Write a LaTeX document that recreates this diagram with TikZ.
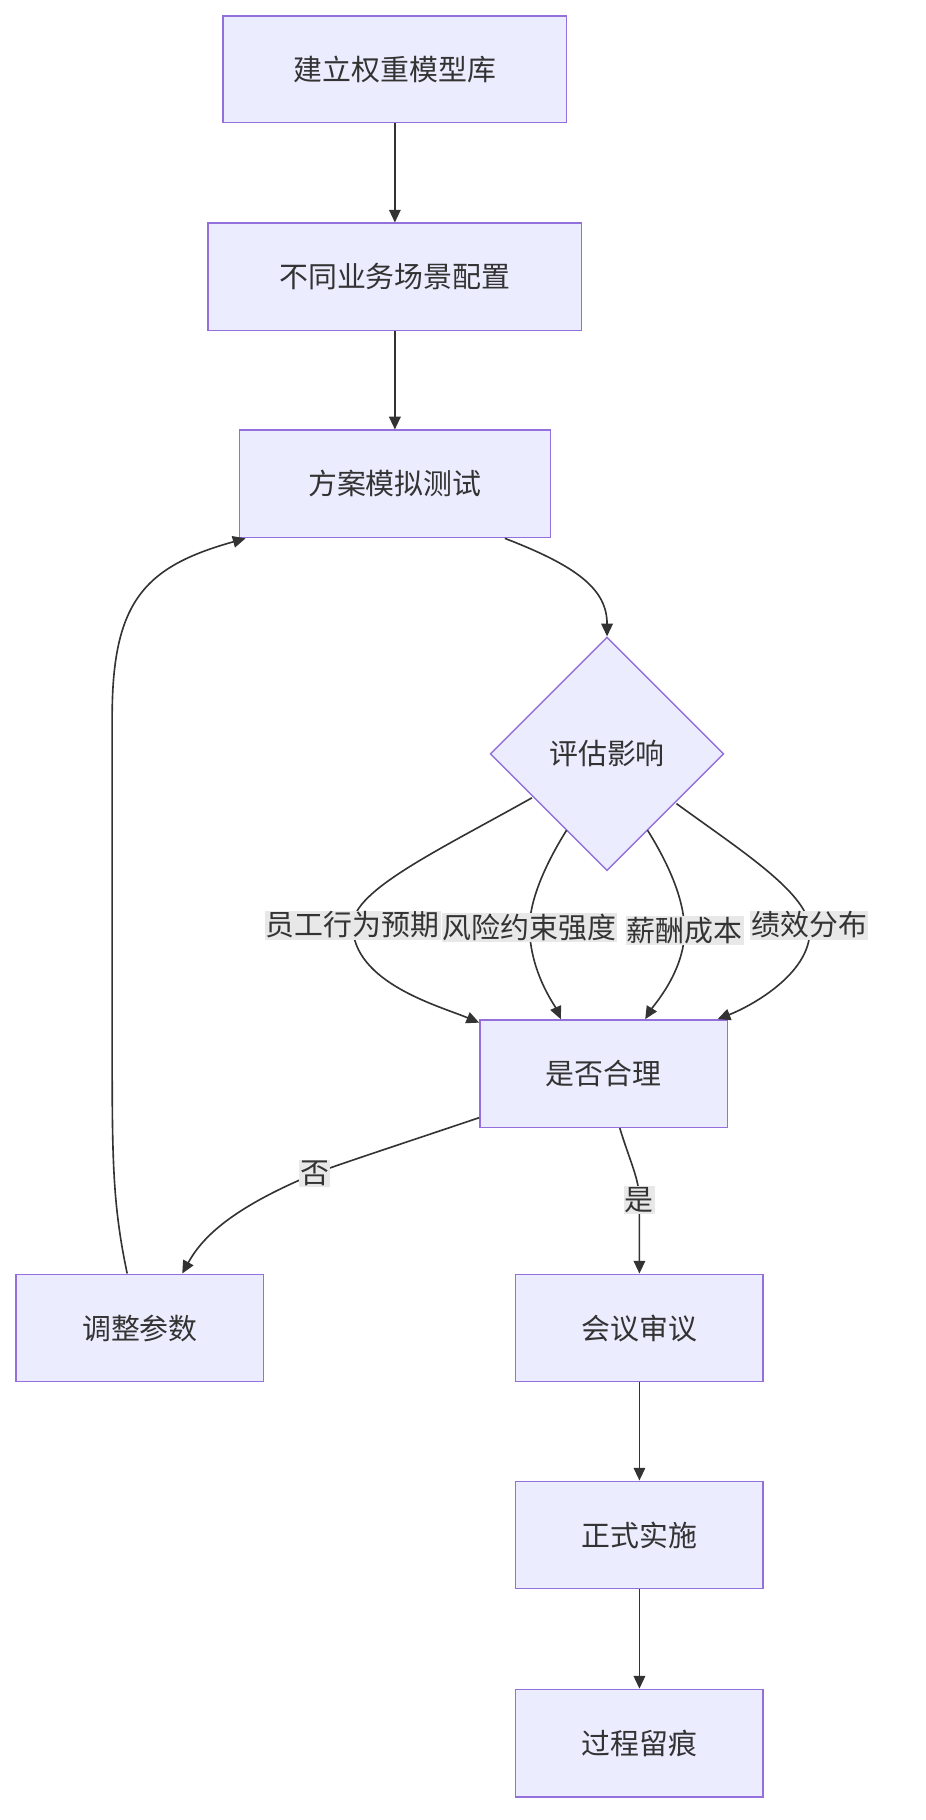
\documentclass[tikz,border=0pt]{standalone}
\usepackage{fontspec}
\setmainfont{Noto Sans CJK SC}
\usetikzlibrary{shapes.geometric,arrows.meta,calc}
\definecolor{nfill}{HTML}{ECECFF}
\definecolor{nline}{HTML}{9370DB}
\definecolor{eline}{HTML}{333333}
\definecolor{lbg}{HTML}{E8E8E8}
\begin{document}
\begin{tikzpicture}[x=1pt,y=-1pt,
  box/.style={draw=nline,fill=nfill,line width=1.2pt,inner sep=0,font=\fontsize{25}{30}\selectfont,text=eline},
  arr/.style={draw=eline,line width=1.4pt,-{Triangle[length=11pt,width=10pt]}},
  lab/.style={fill=lbg,inner sep=1pt,font=\fontsize{25}{30}\selectfont,text=eline}]
\useasboundingbox (0,0) rectangle (800,1574);
\node[box,minimum width=297,minimum height=92] (A) at (341.5,60) {建立权重模型库};
\node[box,minimum width=323,minimum height=93] (B) at (341.5,239.5) {不同业务场景配置};
\node[box,minimum width=269,minimum height=93] (C) at (341.5,418.5) {方案模拟测试};
\node[box,shape=diamond,minimum width=202,minimum height=202] (D) at (525,652) {评估影响};
\node[box,minimum width=214,minimum height=93] (E) at (522,928.5) {是否合理};
\node[box,minimum width=214,minimum height=93] (F) at (121,1148.5) {调整参数};
\node[box,minimum width=214,minimum height=93] (G) at (553,1148.5) {会议审议};
\node[box,minimum width=214,minimum height=93] (H) at (553,1327.5) {正式实施};
\node[box,minimum width=214,minimum height=93] (I) at (553,1507.5) {过程留痕};
\coordinate (L1) at (305,800);
\coordinate (L2) at (458,802);
\coordinate (L3) at (592,805);
\coordinate (L4) at (700,800);
\coordinate (L5) at (272,1015);
\coordinate (L6) at (553,1038);
\draw[arr] (A) -- (B);
\draw[arr] (B) -- (C);
\draw[arr] ($(C.south east)+(-40,0)$) .. controls (500,490) and (525,510) .. (D.north);
\draw[arr] ($(D.center)+(-65,38)$) .. controls (380,735) and (305,770) .. (L1) .. controls (305,850) and (380,870) .. ($(E.north west)+(0,3)$);
\draw[arr] ($(D.center)+(-35,66)$) .. controls (470,750) and (458,780) .. (L2) .. controls (458,840) and (480,870) .. ($(E.north)+(-37,0)$);
\draw[arr] ($(D.center)+(35,66)$) .. controls (580,750) and (592,780) .. (L3) .. controls (592,840) and (565,870) .. ($(E.north)+(36,0)$);
\draw[arr] ($(D.center)+(60,43)$) .. controls (640,735) and (695,770) .. (L4) .. controls (705,840) and (650,870) .. ($(E.north east)+(-9,0)$);
\draw[arr] ($(E.south west)+(0,-9)$) .. controls (330,995) and (290,1008) .. (L5) .. controls (200,1045) and (175,1070) .. ($(F.north east)+(-71,0)$);
\draw[arr] ($(E.south)+(14,0)$) .. controls (545,1005) and (553,1020) .. (L6) -- (G.north);
\draw[arr] ($(F.north)+(-11,0)$) .. controls (97,1040) and (97,1000) .. (97,900) -- (97,620) .. controls (97,520) and (125,490) .. ($(C.south west)+(6,0)$);
\draw[arr] (G) -- (H);
\draw[arr] (H) -- (I);
\node[lab] at (L1) {员工行为预期};
\node[lab] at (L2) {风险约束强度};
\node[lab] at (L3) {薪酬成本};
\node[lab] at (L4) {绩效分布};
\node[lab] at (L5) {否};
\node[lab] at (L6) {是};
\end{tikzpicture}
\end{document}
